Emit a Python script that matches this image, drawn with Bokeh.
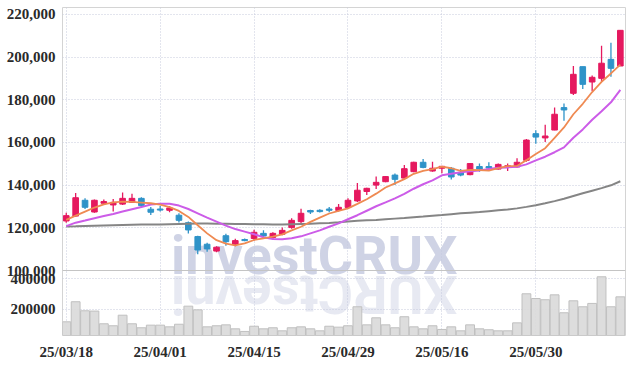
import math
from bokeh.plotting import figure
from bokeh.models import (ColumnDataSource, FixedTicker, NumeralTickFormatter, Range1d, Span)
from bokeh.embed import file_html
from bokeh.resources import INLINE
from bokeh.core.properties import value

dates = ["25/03/18", "25/03/19", "25/03/20", "25/03/21", "25/03/24", "25/03/25", "25/03/26", "25/03/27", "25/03/28", "25/03/31",
         "25/04/01", "25/04/02", "25/04/03", "25/04/04", "25/04/07", "25/04/08", "25/04/09", "25/04/10", "25/04/11", "25/04/14",
         "25/04/15", "25/04/16", "25/04/17", "25/04/18", "25/04/21", "25/04/22", "25/04/23", "25/04/24", "25/04/25", "25/04/28",
         "25/04/29", "25/04/30", "25/05/02", "25/05/07", "25/05/08", "25/05/09", "25/05/12", "25/05/13", "25/05/14", "25/05/15",
         "25/05/16", "25/05/19", "25/05/20", "25/05/21", "25/05/22", "25/05/23", "25/05/26", "25/05/27", "25/05/28", "25/05/29",
         "25/05/30", "25/06/02", "25/06/04", "25/06/05", "25/06/09", "25/06/10", "25/06/11", "25/06/12", "25/06/13", "25/06/16"]

opens = [123200, 125500, 132900, 127400, 131500, 130700, 131100, 131900, 133800, 128700,
         128800, 128200, 125900, 122400, 115900, 112300, 109100, 116300, 112300, 114500,
         115000, 117400, 115500, 117000, 120100, 122900, 128100, 128200, 128800, 128100,
         129500, 132600, 137000, 140000, 141600, 144700, 143300, 146300, 150700, 146600,
         147900, 147900, 145900, 144900, 148700, 148700, 147500, 148300, 148500, 151600,
         164100, 162100, 165800, 176300, 183000, 195500, 188300, 190000, 198900, 195800]
highs = [127100, 136300, 133800, 133300, 133300, 133500, 136500, 136000, 134300, 129700,
         130200, 130200, 126800, 123000, 116300, 113000, 111400, 117200, 114900, 115000,
         119100, 118900, 117900, 120100, 124500, 128900, 128400, 128700, 129700, 131200,
         133800, 141000, 138800, 144000, 144300, 145400, 149400, 151000, 152200, 151000,
         148900, 148500, 147500, 150400, 150100, 150700, 150100, 150100, 152600, 161600,
         165700, 168300, 176400, 178200, 195800, 195500, 191300, 205300, 206700, 212500]
lows = [122400, 125200, 128800, 127000, 131000, 127600, 130700, 131600, 129700, 126000,
        127600, 127300, 122500, 117300, 107600, 108800, 108600, 111600, 111400, 113700,
        113900, 115300, 114500, 116500, 119500, 122000, 126500, 127200, 127300, 127600,
        129100, 132100, 135400, 138200, 141300, 140000, 143000, 146000, 147900, 146300,
        145500, 142600, 144100, 144600, 146300, 147500, 147300, 146600, 148300, 151000,
        159400, 160200, 165700, 170200, 182200, 185000, 184100, 188500, 190800, 195800]
closes = [125700, 134100, 129600, 132900, 132300, 131900, 133800, 133800, 130400, 127300,
          128300, 129300, 123500, 119000, 109600, 110100, 110900, 113500, 114000, 114000,
          117900, 116200, 117400, 118800, 123500, 126800, 127400, 127600, 128200, 129600,
          132900, 137600, 138500, 141300, 144000, 142700, 147700, 150700, 148300, 147900,
          148800, 143800, 144700, 150100, 147500, 148000, 149700, 149100, 150700, 161100,
          162500, 163000, 173200, 175200, 191900, 187200, 190500, 197100, 194700, 212500]
volumes = [119000, 250000, 191000, 189000, 106000, 93000, 162000, 106000, 80000, 97000,
           97000, 86000, 103000, 221000, 197000, 86000, 93000, 99000, 73000, 56000,
           90000, 73000, 80000, 60000, 80000, 86000, 73000, 60000, 90000, 84000,
           93000, 217000, 99000, 145000, 99000, 80000, 152000, 86000, 73000, 93000,
           69000, 86000, 60000, 99000, 73000, 67000, 60000, 60000, 112000, 302000,
           271000, 263000, 295000, 178000, 256000, 217000, 239000, 413000, 217000, 282000]
ma5 = [123700, 125700, 127600, 129500, 131000, 131900, 132300, 132100, 131800, 131500,
       130900, 129700, 127900, 125100, 121200, 117400, 114200, 112600, 111800, 112700,
       114300, 115100, 115900, 116900, 118800, 120500, 122800, 124800, 126700, 127900,
       129100, 131200, 133400, 136000, 138900, 140800, 142800, 145300, 146700, 147500,
       148700, 147900, 146700, 147100, 147000, 146800, 148000, 148900, 149000, 151700,
       154600, 157300, 162100, 167000, 173200, 178100, 183600, 188400, 192300, 196400]
ma10 = [120800, 122400, 123400, 124500, 125500, 126500, 127600, 128700, 129700, 130900,
        131300, 131300, 130400, 128800, 126800, 124800, 122900, 121000, 119400, 118200,
        117000, 115600, 114800, 114600, 115100, 116000, 117400, 118800, 120500, 122100,
        124000, 125900, 128000, 130100, 131900, 133800, 135900, 138300, 140400, 142200,
        144600, 145300, 146000, 146500, 146900, 147600, 148100, 148300, 148600, 149700,
        151600, 153300, 155400, 157700, 162200, 166100, 170600, 174600, 178800, 184600]
ma60 = [120600, 120700, 120900, 121000, 121100, 121200, 121300, 121400, 121500, 121600,
        121600, 121700, 121800, 121900, 122000, 122000, 121900, 121900, 121800, 121800,
        121700, 121700, 121600, 121600, 121700, 121800, 121900, 122100, 122300, 122600,
        123000, 123300, 123500, 123700, 124000, 124300, 124600, 125000, 125300, 125700,
        126000, 126400, 126800, 127100, 127400, 127800, 128200, 128600, 129100, 129800,
        130600, 131500, 132500, 133600, 134900, 136200, 137400, 138600, 139900, 141800]
price_ticks = [100000, 120000, 140000, 160000, 180000, 200000, 220000]
volume_ticks = [200000, 400000]
date_ticks = [0, 10, 20, 30, 40, 50]

# pane extents (value ranges) and pane heights in pixels
P0, P1 = 100000, 223200      # price pane
V0, V1 = 29400, 454000       # volume pane
PRICE_PX, VOL_PX = 263, 65

UP, DOWN = "#e5195f", "#2f93c8"
FONT = "Liberation Sans Narrow"
GRID = "#c6cadc"
WM = "#c3c8df"

ppp = (P1 - P0) / PRICE_PX          # price units per pixel
vpp = (V1 - V0) / VOL_PX            # volume units per pixel
y_start = P0 - VOL_PX * ppp
vol_end = V1 + PRICE_PX * vpp

def vol_to_price(v):
    return y_start + (v - V0) * ppp / vpp

idx = list(range(len(dates)))
src = ColumnDataSource(dict(
    x=idx, o=opens, h=highs, l=lows, c=closes, v=volumes,
    top=[max(a, b) for a, b in zip(opens, closes)],
    bot=[min(a, b) for a, b in zip(opens, closes)],
    col=[UP if c >= o else DOWN for o, c in zip(opens, closes)],
    ma5=ma5, ma10=ma10, ma60=ma60,
))

p = figure(frame_width=563, frame_height=PRICE_PX + VOL_PX,
           x_range=Range1d(-0.4, 59.55), y_range=Range1d(y_start, P1),
           output_backend="svg", toolbar_location=None,
           min_border_left=62, min_border_right=1, min_border_top=7, min_border_bottom=0)
p.extra_y_ranges = {"vol": Range1d(V0, vol_end)}

# watermark and its faded reflection (anchors nudged so the glyphs meet at the pane separator)
p.text(x=[26.4], y=[P0 + 15 * ppp], text=["investCRUX"], text_font=value("Roboto"), text_font_style="bold",
       text_font_size="54px", text_color=WM, text_alpha=0.8, text_align="center",
       text_baseline="alphabetic")
p.text(x=[26.4], y=[P0 - 24 * ppp], text=["XURCtsevni"], text_font=value("Roboto"), text_font_style="bold",
       text_font_size="54px", text_color=WM, text_alpha=0.4, text_align="center",
       text_baseline="alphabetic", angle=math.pi)

# volume
p.vbar(x="x", width=0.94, top="v", bottom=0, fill_color="#d9d9d9", line_color="#c0c0c0",
       fill_alpha=0.9, source=src, y_range_name="vol")

# candles
p.segment(x0="x", y0="h", x1="x", y1="l", color="col", line_width=1.3, source=src)
p.vbar(x="x", width=0.6, top="top", bottom="bot", fill_color="col", line_color="col", line_width=1, source=src)
p.line("x", "ma60", source=src, color="#858585", line_width=2)
p.line("x", "ma10", source=src, color="#cc5ce8", line_width=2)
p.line("x", "ma5", source=src, color="#ef8a52", line_width=1.8)

# pane separator
p.add_layout(Span(location=P0, dimension="width", line_color="#c4c4c4", line_width=1))

vol_pos = [vol_to_price(t) for t in volume_ticks]
p.yaxis.ticker = FixedTicker(ticks=price_ticks + vol_pos)
p.yaxis.formatter = NumeralTickFormatter(format="0,0")
p.yaxis.major_label_overrides = {vp: str(t) for vp, t in zip(vol_pos, volume_ticks)}
p.ygrid.ticker = FixedTicker(ticks=price_ticks[1:] + vol_pos)

p.xaxis.ticker = FixedTicker(ticks=date_ticks)
p.xaxis.major_label_overrides = {t: dates[t] for t in date_ticks}
p.xgrid.ticker = FixedTicker(ticks=date_ticks)

p.outline_line_color = "#d4d4d4"
p.grid.grid_line_color = GRID
p.grid.grid_line_dash = "1 2"
p.grid.grid_line_width = 1
for ax in p.axis:
    ax.axis_line_color = None
    ax.major_tick_line_color = None
    ax.minor_tick_line_color = None
    ax.major_tick_out = 0
    ax.major_tick_in = 0
    ax.major_label_text_font = FONT
    ax.major_label_text_font_style = "bold"
    ax.major_label_text_font_size = "15px"
    ax.major_label_text_color = "#2a2a2a"
p.yaxis.major_label_standoff = 7
p.xaxis.major_label_standoff = 8

open("out.html", "w").write(file_html(p, INLINE))
